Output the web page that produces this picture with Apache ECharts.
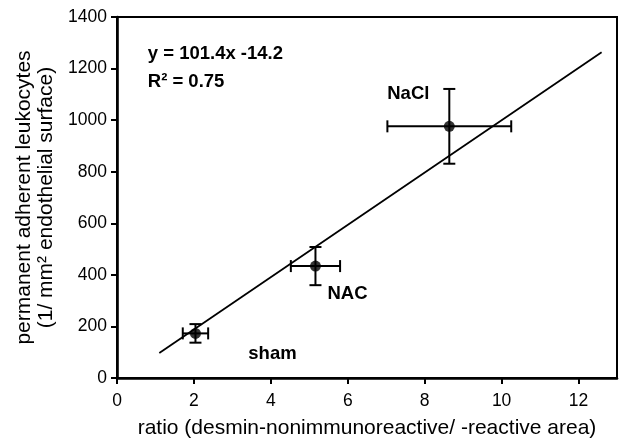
<!DOCTYPE html>
<html>
<head>
<meta charset="utf-8">
<script src="https://cdn.jsdelivr.net/npm/echarts@6/dist/echarts.min.js"></script>
<style>
  html, body { margin: 0; padding: 0; background: #fff; }
  #chart { width: 623px; height: 440px; }
</style>
</head>
<body>
<div id="chart"></div>
<script>
// Group means with SEM in both directions
var groups = ['sham', 'NAC', 'NaCl'];
var ratioMean = [2.04, 5.16, 8.64];
var ratioErr = [0.33, 0.64, 1.61];
var leukoMean = [173, 434, 976];
var leukoErr = [36, 74, 145];

// Linear fit shown in the annotation
var fitSlope = 101.4;
var fitIntercept = -14.2;
var fitRange = [1.1, 12.6];
var fitText = ['y = 101.4x -14.2', 'R² = 0.75'];

var xTicks = [0, 2, 4, 6, 8, 10, 12];
var yTicks = [0, 200, 400, 600, 800, 1000, 1200, 1400];

var FONT = '"Liberation Sans", Arial, sans-serif';

// Label offsets in pixels from each group's mean point
var labelOffsets = [[77, 21], [32, 28], [-41, -32]];

var chart = echarts.init(document.getElementById('chart'), null, { renderer: 'canvas' });

var points = groups.map(function (g, i) {
  return [ratioMean[i], leukoMean[i], ratioErr[i], leukoErr[i], i];
});

var fitLine = fitRange.map(function (x) { return [x, fitSlope * x + fitIntercept]; });

function renderErrorBars(params, api) {
  var x = api.value(0), y = api.value(1), ex = api.value(2), ey = api.value(3);
  var c = api.coord([x, y]);
  var l = api.coord([x - ex, y]), r = api.coord([x + ex, y]);
  var t = api.coord([x, y + ey]), b = api.coord([x, y - ey]);
  var cap = 6;
  var style = { stroke: '#000', lineWidth: 2 };
  return {
    type: 'group',
    children: [
      { type: 'line', shape: { x1: l[0], y1: c[1], x2: r[0], y2: c[1] }, style: style },
      { type: 'line', shape: { x1: l[0], y1: c[1] - cap, x2: l[0], y2: c[1] + cap }, style: style },
      { type: 'line', shape: { x1: r[0], y1: c[1] - cap, x2: r[0], y2: c[1] + cap }, style: style },
      { type: 'line', shape: { x1: c[0], y1: t[1], x2: c[0], y2: b[1] }, style: style },
      { type: 'line', shape: { x1: c[0] - cap, y1: t[1], x2: c[0] + cap, y2: t[1] }, style: style },
      { type: 'line', shape: { x1: c[0] - cap, y1: b[1], x2: c[0] + cap, y2: b[1] }, style: style }
    ]
  };
}

function renderGroupLabels(params, api) {
  var i = api.value(4);
  var c = api.coord([api.value(0), api.value(1)]);
  var off = labelOffsets[i];
  return {
    type: 'text',
    style: {
      x: c[0] + off[0], y: c[1] + off[1],
      text: groups[i], align: 'center', verticalAlign: 'middle',
      font: 'bold 18.5px ' + FONT, fill: '#000'
    }
  };
}

function renderFitText(params, api) {
  var p = api.coord([0.8, 1312]);
  return {
    type: 'text',
    style: {
      x: p[0], y: p[1], text: fitText.join('\n'), lineHeight: 28,
      align: 'left', verticalAlign: 'top',
      font: 'bold 18.5px ' + FONT, fill: '#000'
    }
  };
}

function plain(v) { return String(v); }

chart.setOption({
  animation: false,
  backgroundColor: '#fff',
  grid: {
    left: 117, top: 17, right: 6, bottom: 62,
    containLabel: false, outerBoundsMode: 'none',
    show: true, borderColor: '#000', borderWidth: 2, backgroundColor: 'transparent'
  },
  xAxis: {
    type: 'value', min: 0, max: 13, interval: 2,
    name: 'ratio (desmin-nonimmunoreactive/ -reactive area)',
    nameLocation: 'middle', nameGap: 40,
    nameTextStyle: { color: '#000', fontSize: 21, fontFamily: FONT },
    axisLine: { show: true, onZero: false, lineStyle: { color: '#000', width: 2.6 } },
    axisTick: { show: true, inside: false, length: 6, customValues: xTicks, lineStyle: { color: '#000', width: 2 } },
    axisLabel: { customValues: xTicks, formatter: plain, color: '#000', fontSize: 17.5, fontFamily: FONT, margin: 14 },
    splitLine: { show: false }
  },
  yAxis: {
    type: 'value', min: 0, max: 1400, interval: 200,
    name: 'permanent adherent leukocytes\n(1/ mm² endothelial surface)',
    nameLocation: 'middle', nameGap: 55, nameRotate: 90,
    nameTextStyle: { color: '#000', fontSize: 21, fontFamily: FONT, lineHeight: 22 },
    axisLine: { show: true, onZero: false, lineStyle: { color: '#000', width: 2.6 } },
    axisTick: { show: true, inside: false, length: 6, customValues: yTicks, lineStyle: { color: '#000', width: 2 } },
    axisLabel: { customValues: yTicks, formatter: plain, color: '#000', fontSize: 17.5, fontFamily: FONT, margin: 10 },
    splitLine: { show: false }
  },
  series: [
    {
      type: 'line', data: fitLine, showSymbol: false, silent: true,
      lineStyle: { color: '#000', width: 1.8 }, z: 2
    },
    {
      type: 'custom', renderItem: renderErrorBars, data: points, z: 3
    },
    {
      type: 'scatter', data: points.map(function (p) { return [p[0], p[1]]; }),
      symbol: 'circle', symbolSize: 11, itemStyle: { color: '#000' }, z: 4
    },
    {
      type: 'custom', renderItem: renderGroupLabels, data: points, z: 5
    },
    {
      type: 'custom', renderItem: renderFitText, data: [[0, 0]], z: 5
    }
  ]
});
</script>
</body>
</html>
